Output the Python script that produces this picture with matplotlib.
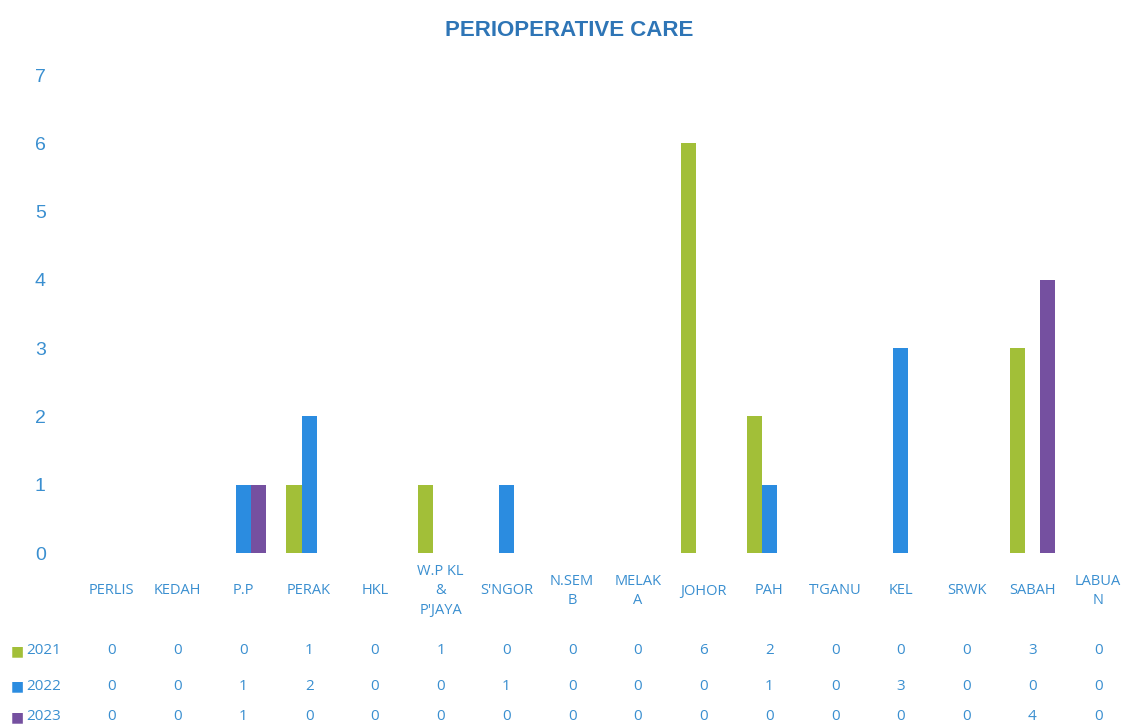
import matplotlib
matplotlib.use("Agg")
import matplotlib.pyplot as plt
import matplotlib.transforms as mtransforms
import numpy as np

# ── data ────────────────────────────────────────────────────────────────────
categories = ["PERLIS", "KEDAH", "P.P", "PERAK", "HKL", "W.P KL\n&\nP'JAYA",
              "S'NGOR", "N.SEM\nB", "MELAK\nA", "JOHOR", "PAH", "T'GANU",
              "KEL", "SRWK", "SABAH", "LABUA\nN"]
years = ["2021", "2022", "2023"]
v2021 = [0, 0, 0, 1, 0, 1, 0, 0, 0, 6, 2, 0, 0, 0, 3, 0]
v2022 = [0, 0, 1, 2, 0, 0, 1, 0, 0, 0, 1, 0, 3, 0, 0, 0]
v2023 = [0, 0, 1, 0, 0, 0, 0, 0, 0, 0, 0, 0, 0, 0, 4, 0]

GREEN, BLUE, PURPLE = "#a2bf38", "#2b8ce0", "#7550a0"
LABEL = "#3a8fd0"
TITLE = "#2e75b6"

W, H = 1139, 726
fig = plt.figure(figsize=(W / 100, H / 100), dpi=100)
ax = fig.add_axes([79 / W, 1 - 553 / H, 1052 / W, 478 / H])

x = np.arange(len(categories))
bw = 0.23
series = [v2021, v2022, v2023]
colors = [GREEN, BLUE, PURPLE]
for i, (vals, c) in enumerate(zip(series, colors)):
    ax.bar(x + (i - 1) * bw, vals, width=bw, color=c)

ax.set_xlim(-0.5, len(categories) - 0.5)
ax.set_ylim(0, 7)
ax.set_yticks(range(8))
ax.set_xticks([])
ax.tick_params(axis="y", length=0, labelsize=14, labelcolor=LABEL, pad=24)
for lbl in ax.get_yticklabels():
    lbl.set_fontfamily("Liberation Sans")
for s in ax.spines.values():
    s.set_visible(False)

fig.text(0.5, 1 - 30 / H, "PERIOPERATIVE CARE", ha="center", va="center",
         fontsize=16, fontweight="bold", color=TITLE, family="Liberation Sans")

# ── data table under the chart ──
trans = mtransforms.blended_transform_factory(ax.transData, fig.transFigure)
for xi, cat in zip(x, categories):
    ax.text(xi, 1 - 591 / H, cat, transform=trans, ha="center", va="center",
            fontsize=10.5, color=LABEL, linespacing=1.45, family="Open Sans")

row_y = [651, 686, 717]
for yr, vals, c, py in zip(years, series, colors, row_y):
    yf = 1 - py / H
    fig.text(11 / W, yf, "■", color=c, fontsize=10, va="center", ha="left",
             family="DejaVu Sans")
    fig.text(26 / W, yf, yr, color=LABEL, fontsize=11, va="center", ha="left",
             family="Open Sans")
    for xi, v in zip(x, vals):
        ax.text(xi, yf, str(v), transform=trans, ha="center", va="center",
                fontsize=11, color=LABEL, family="Open Sans")

fig.savefig("out.png", dpi=100, facecolor="white")
